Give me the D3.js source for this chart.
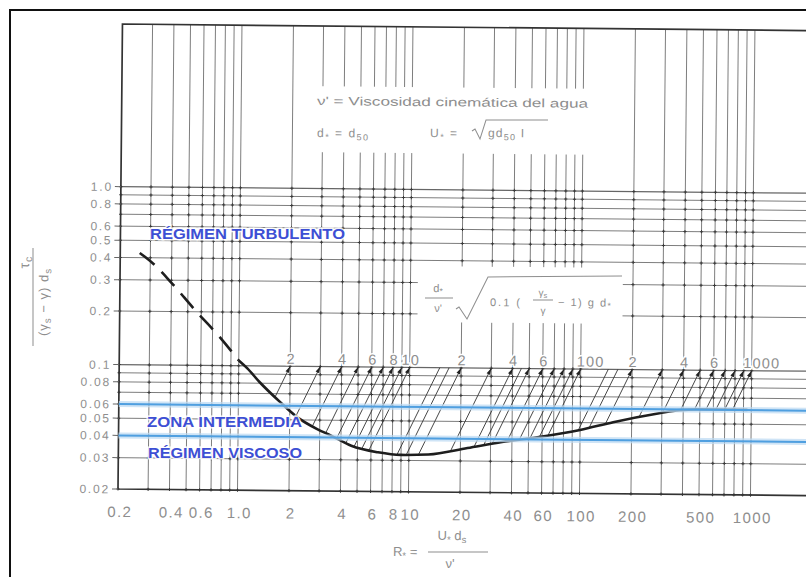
<!DOCTYPE html>
<html>
<head>
<meta charset="utf-8">
<script src="https://cdn.jsdelivr.net/npm/d3@7"></script>
<style>
  body { margin: 0; background: #fff; }
  svg { display: block; }
</style>
</head>
<body>
<svg id="chart" width="806" height="577"></svg>
<script>
// Shields diagram: dimensionless critical shear stress vs. shear Reynolds number

// grid lines of the log–log paper
const gridR   = [0.2,0.3,0.4,0.5,0.6,0.7,0.8,0.9,1,2,3,4,5,6,7,8,9,10,20,30,40,50,60,70,80,90,100,200,300,400,500,600,700,800,900,1000];
const gridTau = [0.02,0.03,0.04,0.05,0.06,0.07,0.08,0.09,0.1,0.2,0.3,0.4,0.5,0.6,0.7,0.8,0.9,1.0];

// axis tick labels
const xTickValues = [0.2,0.4,0.6,1,2,4,6,8,10,20,40,60,100,200,500,1000];
const xTickLabels = ["0.2","0.4","0.6","1.0","2","4","6","8","10","20","40","60","100","200","500","1000"];
const yTickValues = [1,0.8,0.6,0.5,0.4,0.3,0.2,0.1,0.08,0.06,0.05,0.04,0.03,0.02];
const yTickLabels = ["1.0","0.8","0.6","0.5","0.4","0.3","0.2","0.1","0.08","0.06","0.05","0.04","0.03","0.02"];

// auxiliary scale (d/ν')·√(0.1(γs/γ−1)g d), read along τ = 0.1
const paramValues = [2,4,6,8,10,20,40,60,100,200,400,600,1000];
const paramLabels = ["2","4","6","8","10","2","4","6","100","2","4","6","1000"];
const paramLines  = [2,3,4,5,6,7,8,9,10,15,17,20,30,40,45,50,60,70,80,90,100,145,165,200,300,400,500,600,700,800,900,1000];
const paramNoArrow = [15,17,45,145,165];
const paramTau = 0.1;

// critical (Shields) curve
const curveR   = [0.26,0.31,0.40,0.55,0.77,1.0,1.12,1.33,1.75,2.2,2.9,3.5,4.6,6.6,9,13,22,35,55,100,156,290,380,500,950];
const curveTau = [0.425,0.373,0.29,0.205,0.145,0.107,0.097,0.081,0.063,0.052,0.0445,0.041,0.036,0.0332,0.0322,0.0325,0.0355,0.0385,0.041,0.0455,0.0505,0.057,0.0595,0.0602,0.0602];
const dashedUpTo = 1.0;

// flow regime boundaries
const regimeTau = [0.06, 0.04];
const regimeLabels = [
  { text: "RÉGIMEN TURBULENTO", x: 150, y: 239, len: 195 },
  { text: "ZONA INTERMEDIA",    x: 147, y: 427, len: 155 },
  { text: "RÉGIMEN VISCOSO",    x: 148, y: 458, len: 154 }
];

// ---------------------------------------------------------------
const W = 806, H = 577;
const plot = { left: 118, right: 750.5, bottom: 489, top: 24, farRight: 818 };
const tilt = 0.55; // the sheet sits slightly turned, degrees clockwise

const x = d3.scaleLog().domain([0.2, 1000]).range([plot.left, plot.right]);
const y = d3.scaleLog().domain([0.02, 8.2]).range([plot.bottom, plot.top]);

const rad = tilt * Math.PI / 180, cs = Math.cos(rad), sn = Math.sin(rad);
// page position -> position inside the turned sheet
function sheet(px, py) {
  const dx = px - plot.left, dy = py - plot.bottom;
  return [plot.left + dx * cs + dy * sn, plot.bottom - dx * sn + dy * cs];
}

const ink = "#666";
const pencil = "#8e8e8e";
const numFont = "'Liberation Sans', Arial, sans-serif";

const svg = d3.select("#chart");
svg.append("rect").attr("width", W).attr("height", H).attr("fill", "#fff");

// page frame
svg.append("path").attr("d", "M10,590 V10 H820")
  .attr("fill", "none").attr("stroke", "#111").attr("stroke-width", 2);

const g = svg.append("g").attr("transform", `rotate(${tilt},${plot.left},${plot.bottom})`);

// vertical grid
g.append("g").selectAll("line").data(gridR.filter(d => d > 0.2)).join("line")
  .attr("x1", d => x(d)).attr("x2", d => x(d))
  .attr("y1", plot.top).attr("y2", plot.bottom)
  .attr("stroke", ink).attr("stroke-width", 0.85);

// horizontal grid
g.append("g").selectAll("line").data(gridTau.filter(d => d > 0.02)).join("line")
  .attr("x1", plot.left).attr("x2", plot.farRight)
  .attr("y1", d => y(d)).attr("y2", d => y(d))
  .attr("stroke", ink).attr("stroke-width", d => (d === 1 || d === 0.1) ? 1.3 : 0.85);

// small crosses at the grid nodes
g.append("path")
  .attr("d", d3.cross(gridR, gridTau).map(([r, t]) =>
    `M${x(r) - 1.6},${y(t)}h3.2M${x(r)},${y(t) - 1.6}v3.2`).join(""))
  .attr("stroke", "#3a3a3a").attr("stroke-width", 1);

// sheet border
g.append("path")
  .attr("d", `M${plot.farRight},${plot.top}H${plot.left}V${plot.bottom}H${plot.farRight}`)
  .attr("fill", "none").attr("stroke", "#333").attr("stroke-width", 1.7);

// y ticks and labels
g.append("g").selectAll("line").data(yTickValues).join("line")
  .attr("x1", plot.left - 6).attr("x2", plot.left)
  .attr("y1", d => y(d)).attr("y2", d => y(d))
  .attr("stroke", ink).attr("stroke-width", 1);
g.append("g").selectAll("text").data(yTickValues).join("text")
  .attr("x", plot.left - 8).attr("y", d => y(d)).attr("dy", "0.36em")
  .attr("text-anchor", "end")
  .attr("font-family", numFont).attr("font-size", 12).attr("letter-spacing", 1.8)
  .attr("fill", pencil)
  .text((d, i) => yTickLabels[i]);

// x labels
g.append("g").selectAll("text").data(xTickValues).join("text")
  .attr("x", d => x(d) + 2).attr("y", plot.bottom + 28)
  .attr("text-anchor", "middle")
  .attr("font-family", numFont).attr("font-size", 15).attr("letter-spacing", 1.4)
  .attr("fill", pencil)
  .text((d, i) => xTickLabels[i]);

// white panels behind the notes
function panel(px0, py0, w, h) {
  const [sx, sy] = sheet(px0, py0);
  g.append("rect").attr("x", sx).attr("y", sy).attr("width", w).attr("height", h).attr("fill", "#fff");
}
panel(300, 86, 293, 66);
panel(418, 266, 205, 56);

// lines of constant auxiliary parameter, down to the curve
const logCurve = d3.scaleLinear()
  .domain(curveR.map(Math.log10)).range(curveTau.map(Math.log10)).clamp(true);
function meetCurve(P) {
  const lp = Math.log10(P), lt = Math.log10(paramTau);
  const f = lr => (lt + 2 * (lr - lp)) - logCurve(lr);
  let lo = Math.log10(curveR[0]), hi = lp;
  for (let i = 0; i < 60; i++) {
    const mid = (lo + hi) / 2;
    if (f(mid) > 0) hi = mid; else lo = mid;
  }
  const lr = (lo + hi) / 2;
  return [10 ** lr, 10 ** (lt + 2 * (lr - lp))];
}
const family = paramLines.map(P => {
  const [r, t] = meetCurve(P);
  return { P, x1: x(P), y1: y(paramTau), x2: x(r), y2: y(t) };
});
g.append("g").selectAll("line").data(family).join("line")
  .attr("x1", d => d.x1).attr("y1", d => d.y1)
  .attr("x2", d => d.x2).attr("y2", d => d.y2)
  .attr("stroke", "#333").attr("stroke-width", 0.9);
g.append("g").selectAll("path").data(family.filter(d => !paramNoArrow.includes(d.P))).join("path")
  .attr("d", d => {
    const dx = d.x1 - d.x2, dy = d.y1 - d.y2, L = Math.hypot(dx, dy);
    const ux = dx / L, uy = dy / L, nx = -uy, ny = ux;
    const len = Math.min(6.5, L), w = 2;
    const bx = d.x1 - ux * len, by = d.y1 - uy * len;
    return `M${d.x1},${d.y1}L${bx + nx * w},${by + ny * w}L${bx - nx * w},${by - ny * w}Z`;
  })
  .attr("fill", "#222");

// auxiliary scale labels
g.append("g").selectAll("text").data(paramValues).join("text")
  .attr("x", (d, i) => x(d) + (paramLabels[i].length >= 3 ? 10 : 1))
  .attr("y", y(paramTau) - 2.5)
  .attr("text-anchor", "middle")
  .attr("font-family", numFont).attr("font-size", 14.5).attr("letter-spacing", 1.2)
  .attr("fill", pencil)
  .attr("stroke", "#fff").attr("stroke-width", 3).attr("paint-order", "stroke")
  .text((d, i) => paramLabels[i]);

// critical curve
const pts = curveR.map((r, i) => [x(r), y(curveTau[i])]);
const line = d3.line().curve(d3.curveMonotoneX);
g.append("path")
  .attr("d", line(pts.filter((p, i) => curveR[i] <= dashedUpTo)))
  .attr("fill", "none").attr("stroke", "#1e1e1e").attr("stroke-width", 2.6)
  .attr("stroke-dasharray", "19,10");
g.append("path")
  .attr("d", line(pts.filter((p, i) => curveR[i] >= dashedUpTo)))
  .attr("fill", "none").attr("stroke", "#1e1e1e").attr("stroke-width", 2.6);

// regime boundaries
g.append("g").selectAll("line").data(regimeTau).join("line")
  .attr("x1", plot.left).attr("x2", plot.farRight)
  .attr("y1", d => y(d)).attr("y2", d => y(d))
  .attr("stroke", "#bfdcf4").attr("stroke-width", 6).attr("opacity", 0.75);
g.append("g").selectAll("line").data(regimeTau).join("line")
  .attr("x1", plot.left).attr("x2", plot.farRight)
  .attr("y1", d => y(d)).attr("y2", d => y(d))
  .attr("stroke", "#4f9fe0").attr("stroke-width", 2);

// notes
const noteFont = "'Liberation Sans', Arial, sans-serif";
function note(px, py, opts = {}) {
  const [sx, sy] = sheet(px, py);
  const t = g.append("text").attr("x", sx).attr("y", sy)
    .attr("font-family", noteFont).attr("font-size", opts.size || 12)
    .attr("fill", opts.fill || pencil)
    .attr("text-anchor", opts.anchor || "start");
  if (opts.len) t.attr("textLength", opts.len).attr("lengthAdjust", "spacingAndGlyphs");
  if (opts.spacing) t.attr("letter-spacing", opts.spacing);
  return t;
}
function sub(t, s) { t.append("tspan").attr("baseline-shift", "-28%").attr("font-size", "75%").text(s); }
function stroke(d) {
  g.append("path").attr("d", d).attr("fill", "none").attr("stroke", pencil).attr("stroke-width", 1);
}
function pathAt(list) {
  return list.map(([c, px, py]) => { const [sx, sy] = sheet(px, py); return `${c}${sx},${sy}`; }).join("");
}

note(317, 105, { len: 271 }).text("ν' = Viscosidad cinemática del agua");

let t = note(317, 137, { spacing: 1.5 });
t.append("tspan").text("d"); sub(t, "*"); t.append("tspan").text(" = d"); sub(t, "50");

t = note(430, 137, { spacing: 1.5 });
t.append("tspan").text("U"); sub(t, "*"); t.append("tspan").text(" =");
stroke(pathAt([["M", 472, 131], ["L", 475, 129], ["L", 480, 139], ["L", 486, 120], ["L", 548, 120]]));
t = note(488, 137, { spacing: 1.2 });
t.append("tspan").text("gd"); sub(t, "50"); t.append("tspan").text(" I");

// (d/ν')·√(0.1(γs/γ − 1) g d)
t = note(438, 292, { anchor: "middle", size: 11 });
t.append("tspan").text("d"); sub(t, "*");
stroke(pathAt([["M", 425, 298], ["L", 453, 298]]));
note(438, 312, { anchor: "middle", size: 11 }).text("ν'");
stroke(pathAt([["M", 456, 309], ["L", 459, 307], ["L", 467, 319], ["L", 488, 277], ["L", 622, 276]]));
note(490, 306, { size: 11, spacing: 2 }).text("0.1 (");
t = note(543, 296, { anchor: "middle", size: 10 });
t.append("tspan").text("γ"); sub(t, "s");
stroke(pathAt([["M", 533, 300], ["L", 553, 300]]));
note(543, 314, { anchor: "middle", size: 10 }).text("γ");
t = note(558, 306, { size: 11, spacing: 1.5 });
t.append("tspan").text("− 1) g d"); sub(t, "*");

// x axis title: R* = U* ds / ν'
t = note(393, 556, { size: 13 });
t.append("tspan").text("R"); sub(t, "*"); t.append("tspan").text(" =");
t = note(452, 540, { size: 13, anchor: "middle" });
t.append("tspan").text("U"); sub(t, "*"); t.append("tspan").text(" d"); sub(t, "s");
stroke(pathAt([["M", 428, 552], ["L", 488, 552]]));
note(450, 568, { size: 13, anchor: "middle" }).text("ν'");

// y axis title: τc / ((γs − γ) ds)
function vnote(px, py, size) {
  const [sx, sy] = sheet(px, py);
  return g.append("text").attr("transform", `translate(${sx},${sy}) rotate(-90)`)
    .attr("text-anchor", "middle").attr("font-family", noteFont)
    .attr("font-size", size).attr("fill", pencil).attr("letter-spacing", 1);
}
t = vnote(29, 262, 14);
t.append("tspan").text("τ"); sub(t, "c");
stroke(pathAt([["M", 33, 248], ["L", 33, 346]]));
t = vnote(48, 302, 13);
t.append("tspan").text("(γ"); sub(t, "s"); t.append("tspan").text(" − γ) d"); sub(t, "s");

// regime names
svg.append("g").selectAll("text").data(regimeLabels).join("text")
  .attr("x", d => d.x).attr("y", d => d.y)
  .attr("textLength", d => d.len).attr("lengthAdjust", "spacingAndGlyphs")
  .attr("font-family", "'Liberation Sans', Arial, sans-serif")
  .attr("font-weight", "bold").attr("font-size", 15.5)
  .attr("fill", "#3d4fd4")
  .attr("stroke", "rgba(255,255,255,0.85)").attr("stroke-width", 3).attr("paint-order", "stroke")
  .text(d => d.text);
</script>
</body>
</html>
